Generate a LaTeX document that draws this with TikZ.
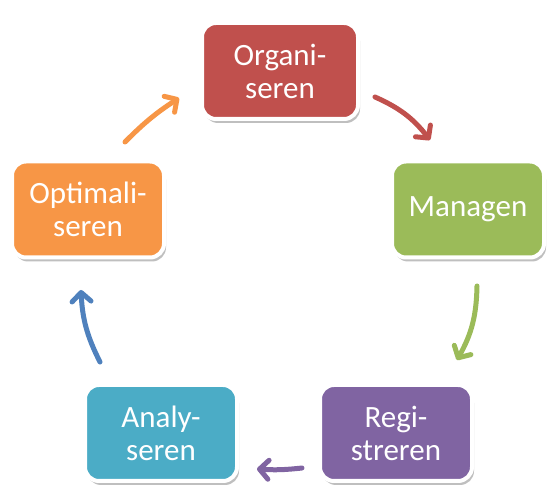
\documentclass[tikz,border=0pt]{standalone}
\usepackage{fontspec}
\setmainfont{Carlito}
\usetikzlibrary{arrows.meta,shadows}
\definecolor{cred}{HTML}{C0504D}
\definecolor{cgreen}{HTML}{9BBB59}
\definecolor{cpurple}{HTML}{8064A2}
\definecolor{cteal}{HTML}{4BACC6}
\definecolor{corange}{HTML}{F79646}
\definecolor{cblue}{HTML}{4F81BD}
\tikzset{
  box/.style={draw=white, line width=4pt, rounded corners=14pt,
    minimum width=152pt, minimum height=96pt, text=white, align=center,
    font=\fontsize{31}{33}\selectfont, inner sep=0pt,
    drop shadow={shadow xshift=2pt, shadow yshift=-4pt, opacity=0.25, fill=black}},
  cyc/.style={line width=5pt, line cap=round,
    -{Straight Barb[length=9pt,width=19pt,line cap=round,round]}}
}
\begin{document}
\begin{tikzpicture}[x=1pt,y=1pt]
\useasboundingbox (0,0) rectangle (549,487);
\node[box, fill=cred, minimum width=156pt] (org) at (280,416) {Organi-\\seren};
\node[box, fill=cgreen] (man) at (468,277.5) {Managen};
\node[box, fill=cpurple] (reg) at (396,54) {Regi-\\streren};
\node[box, fill=cteal] (ana) at (161,54) {Analy-\\seren};
\node[box, fill=corange] (opt) at (88,277.5) {Optimali-\\seren};
\coordinate (r1) at (375,390); \coordinate (r2) at (430,347);
\coordinate (g1) at (477,201); \coordinate (g2) at (457,127);
\coordinate (p1) at (302,19);  \coordinate (p2) at (257,18);
\coordinate (b1) at (100,125); \coordinate (b2) at (81,197);
\coordinate (o1) at (125,345); \coordinate (o2) at (179,389);
\draw[cyc, cred] (r1) to[bend left=14] (r2);
\draw[cyc, cgreen] (g1) to[bend left=14] (g2);
\draw[cyc, cpurple] (p1) to[bend left=5] (p2);
\draw[cyc, cblue] (b1) to[bend left=12] (b2);
\draw[cyc, corange] (o1) to[bend left=6] (o2);
\end{tikzpicture}
\end{document}
